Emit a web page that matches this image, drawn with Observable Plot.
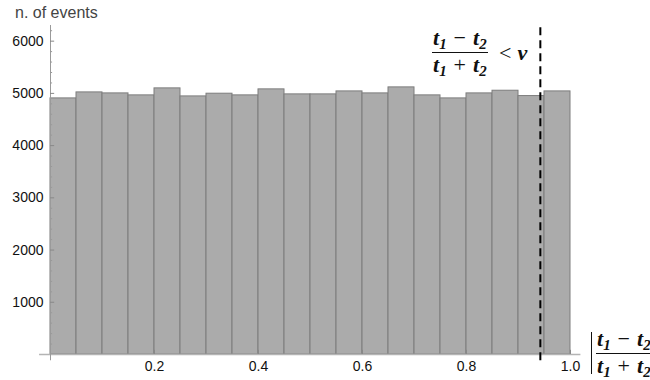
<!DOCTYPE html>
<html>
<head>
<meta charset="utf-8">
<script src="https://cdn.jsdelivr.net/npm/d3@7"></script>
<script src="https://cdn.jsdelivr.net/npm/@observablehq/plot@0.6"></script>
<style>
  html, body { margin: 0; padding: 0; background: #fff; }
  #wrap { position: relative; width: 650px; height: 380px; overflow: hidden; }
  .ov { position: absolute; white-space: nowrap; }
  .ylab { font-family: "Liberation Sans", Arial, sans-serif; font-size: 16px; line-height: 16px; color: #444; }
  .math { font-family: "Liberation Serif", "Times New Roman", serif; font-size: 22px; color: #111; }
  .frac { display: flex; flex-direction: column; align-items: center; }
  .frac .num, .frac .den { display: block; font-weight: bold; font-style: italic; line-height: 20px; height: 20px; }
  .frac .num { border-bottom: 1.3px solid #111; padding: 0 1px 4px 1px; }
  .frac .den { padding: 2px 1px 0 1px; }
  sub { font-size: 0.68em; vertical-align: -0.28em; line-height: 0; }
  .op { font-style: normal; font-weight: normal; margin: 0 7px; }
  .bi { font-weight: bold; font-style: italic; }
</style>
</head>
<body>
<div id="wrap"></div>
<script>
// ---- data ----
const binEdges = [0, 0.05, 0.1, 0.15, 0.2, 0.25, 0.3, 0.35, 0.4, 0.45, 0.5,
                  0.55, 0.6, 0.65, 0.7, 0.75, 0.8, 0.85, 0.9, 0.95, 1.0];
const counts = [4904, 5019, 5000, 4962, 5096, 4942, 4994, 4962, 5077, 4981,
                4981, 5038, 5000, 5115, 4962, 4904, 5000, 5051, 4949, 5038];
const xTickValues = [0.2, 0.4, 0.6, 0.8, 1.0];
const yTickValues = [1000, 2000, 3000, 4000, 5000, 6000];
const cutValue = 0.942;
const yAxisLabel = "n. of events";

const bins = counts.map((c, i) => ({x0: binEdges[i], x1: binEdges[i + 1], count: c}));
const yMinor = d3.range(200, 6300, 200).filter(v => v % 1000 !== 0);

const chart = Plot.plot({
  width: 650,
  height: 380,
  marginLeft: 50,
  marginRight: 80,
  marginTop: 25,
  marginBottom: 26,
  style: {fontFamily: "'Liberation Sans', Arial, sans-serif", fontSize: "14px", color: "#111", background: "#fff"},
  x: {domain: [0, 1], axis: null},
  y: {domain: [0, 6300], axis: null},
  marks: [
    Plot.rectY(bins, {x1: "x0", x2: "x1", y: "count", fill: "#ababab", stroke: "#7d7d7d", strokeWidth: 1}),
    Plot.ruleY([0], {x1: -0.021, x2: 1.02, stroke: "#b4b4b4", strokeWidth: 1.6}),
    Plot.ruleX([0], {y1: -120, y2: 6300, stroke: "#9a9a9a", strokeWidth: 1}),
    Plot.ruleY(yTickValues, {x1: 0, x2: 0.008, stroke: "#888"}),
    Plot.ruleY(yMinor, {x1: 0, x2: 0.004, stroke: "#999"}),
    Plot.ruleX(xTickValues, {y1: 0, y2: 80, stroke: "#888"}),
    Plot.axisY({ticks: yTickValues, tickSize: 0, tickPadding: 7, label: null, fontSize: 14, tickFormat: d3.format("d")}),
    Plot.axisX({ticks: xTickValues, tickSize: 0, tickPadding: 7, label: null, fontSize: 14, tickFormat: d3.format(".1f")}),
    Plot.ruleX([cutValue], {y1: -120, y2: 6300, stroke: "#000", strokeWidth: 2, strokeDasharray: "8,5"})
  ]
});
const wrap = document.getElementById("wrap");
wrap.appendChild(chart);

// ---- text overlays ----
const lab = document.createElement("div");
lab.className = "ov ylab";
lab.style.left = "15px"; lab.style.top = "5px";
lab.textContent = yAxisLabel;
wrap.appendChild(lab);

function fracHTML() {
  return '<span class="num">t<sub>1</sub><span class="op">−</span>t<sub>2</sub></span>' +
         '<span class="den">t<sub>1</sub><span class="op">+</span>t<sub>2</sub></span>';
}
const f1 = document.createElement("div");
f1.className = "ov math frac";
f1.style.left = "432px"; f1.style.top = "28px";
f1.innerHTML = fracHTML();
wrap.appendChild(f1);

const lt = document.createElement("div");
lt.className = "ov math";
lt.style.left = "499px"; lt.style.top = "42px"; lt.style.lineHeight = "22px";
lt.innerHTML = '&lt;<span class="bi" style="margin-left:6px">v</span>';
wrap.appendChild(lt);

const f2 = document.createElement("div");
f2.className = "ov math frac";
f2.style.left = "596px"; f2.style.top = "329px";
f2.innerHTML = fracHTML();
wrap.appendChild(f2);

const bar = document.createElement("div");
bar.className = "ov";
bar.style.left = "591px"; bar.style.top = "332px"; bar.style.height = "42px";
bar.style.borderLeft = "1.3px solid #111";
wrap.appendChild(bar);
</script>
</body>
</html>
